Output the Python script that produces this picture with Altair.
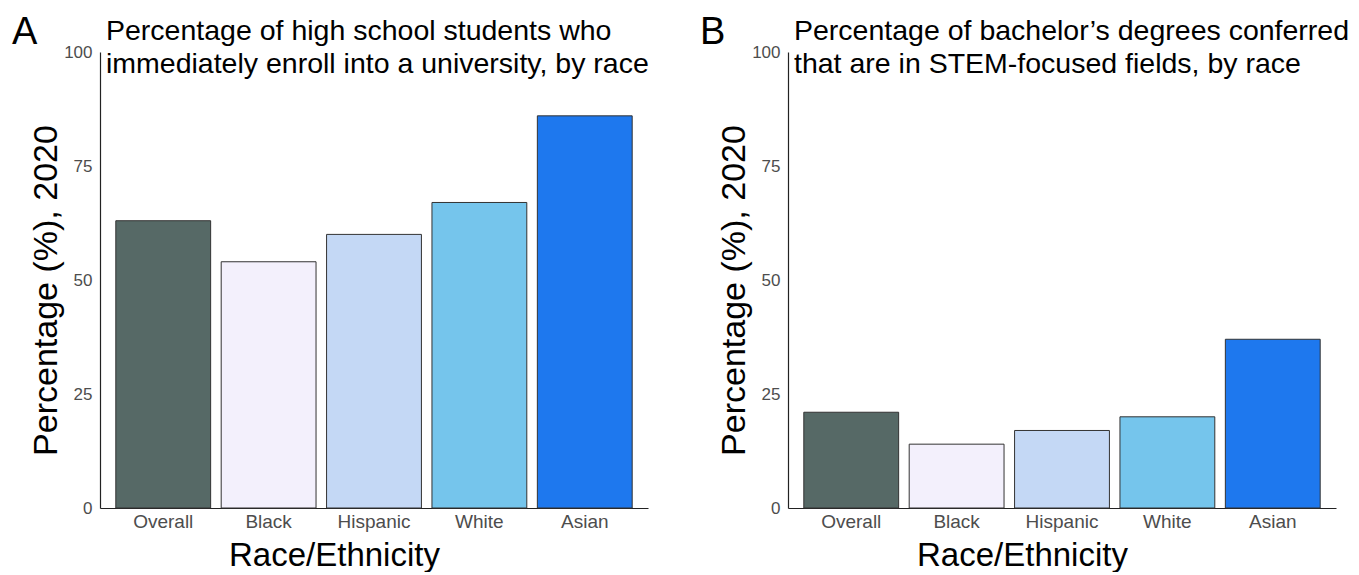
import altair as alt
import pandas as pd

categories = ["Overall", "Black", "Hispanic", "White", "Asian"]
enroll_values = [63, 54, 60, 67, 86]
stem_values = [21, 14, 17, 20, 37]
bar_colors = ["#566966", "#F3F0FC", "#C4D8F5", "#75C5EC", "#1E78EE"]
y_ticks = [0, 25, 50, 75, 100]

title_a = "Percentage of high school students who\nimmediately enroll into a university, by race"
title_b = "Percentage of bachelor\u2019s degrees conferred\nthat are in STEM-focused fields, by race"

FONT = "Liberation Sans"


def panel(values, title, letter):
    df = pd.DataFrame({"Race": categories, "value": values})
    bars = alt.Chart(df).mark_bar(stroke="#333333", strokeWidth=1).encode(
        x=alt.X("Race:N", sort=categories, title="Race/Ethnicity",
                scale=alt.Scale(paddingInner=0.1, paddingOuter=0.15),
                axis=alt.Axis(labelAngle=0, labelFontSize=19, labelColor="#4D4D4D",
                              labelPadding=4, ticks=False, tickSize=0,
                              domainColor="#222222", domainWidth=1.2,
                              titleFontSize=33, titleFontWeight="normal",
                              titleColor="black", titleX=234, titleY=57,
                              titleBaseline="alphabetic", labelFont=FONT,
                              titleFont=FONT)),
        y=alt.Y("value:Q", title="Percentage (%), 2020",
                scale=alt.Scale(domain=[0, 100], nice=False),
                axis=alt.Axis(values=y_ticks, grid=False, labelFontSize=17,
                              labelColor="#4D4D4D", labelPadding=8, ticks=False,
                              tickSize=0, domainColor="#222222", domainWidth=1.2,
                              titleFontSize=34, titleFontWeight="normal",
                              titleColor="black", titleX=-44, titleY=238,
                              titleBaseline="alphabetic", labelFont=FONT,
                              titleFont=FONT)),
        color=alt.Color("Race:N", scale=alt.Scale(domain=categories, range=bar_colors),
                        legend=None),
    )
    ttl = alt.Chart(pd.DataFrame({"t": [title]})).mark_text(
        align="left", baseline="alphabetic", fontSize=28.5, lineHeight=33,
        lineBreak="\n", font=FONT, color="black"
    ).encode(x=alt.value(6), y=alt.value(-12), text="t:N")
    lab = alt.Chart(pd.DataFrame({"t": [letter]})).mark_text(
        align="left", baseline="alphabetic", fontSize=38, font=FONT, color="black"
    ).encode(x=alt.value(-88), y=alt.value(-8), text="t:N")
    return alt.layer(bars, ttl, lab).properties(width=548, height=456)


chart = alt.hconcat(
    panel(enroll_values, title_a, "A"),
    panel(stem_values, title_b, "B"),
    spacing=140, bounds="flush",
).properties(
    padding={"left": 12, "top": 14, "right": 5, "bottom": 0}
).configure_view(stroke=None)

chart.save("out.html", embed_options={"renderer": "svg", "actions": False})
